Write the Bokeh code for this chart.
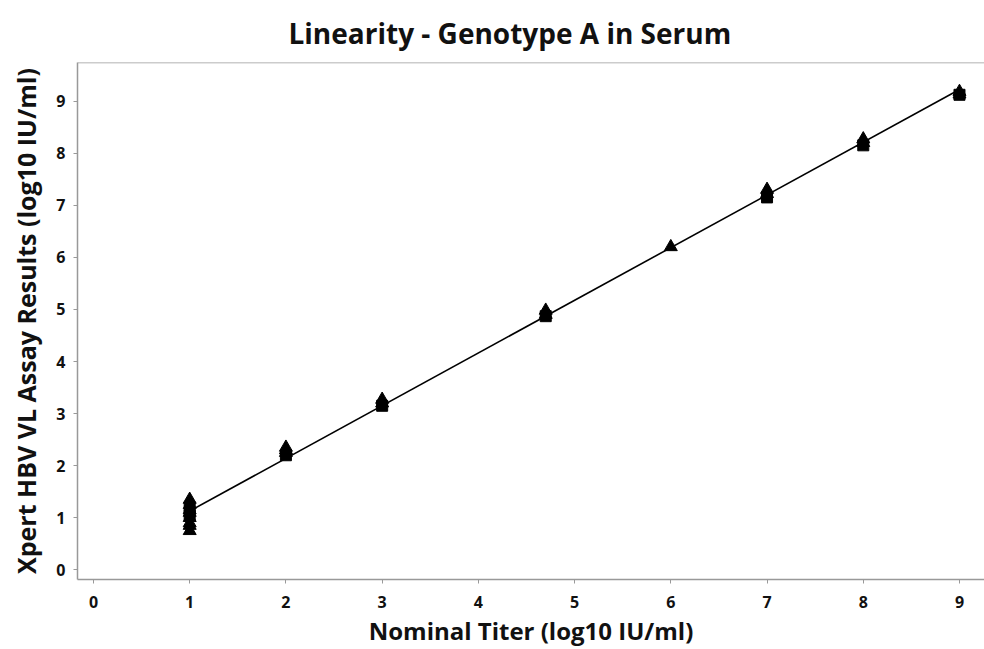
import numpy as np
from bokeh.plotting import figure
from bokeh.models import Span, FixedTicker, Range1d
from bokeh.embed import file_html
from bokeh.resources import INLINE

# Triangle-marker results (nominal titer, assay result)
tri_x = [1, 1, 1, 1, 1, 1, 1, 1,
         2, 2, 2,
         3, 3,
         4.7, 4.7,
         6,
         7, 7,
         8, 8,
         9, 9]
tri_y = [1.35, 1.25, 1.15, 1.1, 1.0, 0.9, 0.85, 0.75,
         2.35, 2.3, 2.25,
         3.27, 3.2,
         4.98, 4.9,
         6.2,
         7.3, 7.22,
         8.27, 8.2,
         9.18, 9.13]
# Square-marker results
sq_x = [1, 1, 2, 3, 4.7, 7, 8, 9]
sq_y = [1.2, 1.05, 2.2, 3.15, 4.87, 7.15, 8.15, 9.12]

x_ticks = [0, 1, 2, 3, 4, 5, 6, 7, 8, 9]
y_ticks = [0, 1, 2, 3, 4, 5, 6, 7, 8, 9]
title_text = "Linearity - Genotype A in Serum"

FONT = "Open Sans"

p = figure(width=984, height=649, output_backend="svg", toolbar_location=None,
           x_range=Range1d(-0.166, 9.26), y_range=Range1d(-0.185, 9.74),
           min_border_left=77, min_border_right=0, min_border_top=62, min_border_bottom=67,
           title=title_text)
p.outline_line_color = None
p.grid.visible = False
p.background_fill_color = "white"
p.border_fill_color = "white"

p.title.text_font = FONT
p.title.text_font_size = "28px"
p.title.text_font_style = "bold"
p.title.align = "left"
p.title.offset = 211
p.title.standoff = 18
p.title.vertical_align = "top"
p.title.text_color = "#111111"

for ax in (p.xaxis[0], p.yaxis[0]):
    ax.axis_line_color = "#999999"
    ax.axis_line_width = 1.5
    ax.major_tick_line_color = "#999999"
    ax.major_tick_out = 4
    ax.major_tick_in = 0
    ax.minor_tick_line_color = None
    ax.major_label_text_font = FONT
    ax.major_label_text_font_size = "16px"
    ax.major_label_text_font_style = "bold"
    ax.major_label_text_color = "#111111"
    ax.axis_label_text_font = FONT
    ax.axis_label_text_font_style = "bold"
    ax.axis_label_text_color = "#111111"

p.xaxis.axis_label_text_font_size = "24px"
p.yaxis.axis_label_text_font_size = "25px"
p.xaxis.ticker = FixedTicker(ticks=x_ticks)
p.yaxis.ticker = FixedTicker(ticks=y_ticks)
p.xaxis.axis_label = "Nominal Titer (log10 IU/ml)"
p.yaxis.axis_label = "Xpert HBV VL Assay Results (log10 IU/ml)"
p.xaxis.major_label_standoff = 12
p.yaxis.major_label_standoff = 8
p.xaxis.axis_label_standoff = 3
p.yaxis.axis_label_standoff = 10

p.add_layout(Span(location=9.74, dimension="width", line_color="#999999", line_width=1.5))

# regression line fitted to all results
all_x = np.array(tri_x + sq_x, dtype=float)
all_y = np.array(tri_y + sq_y, dtype=float)
slope, intercept = np.polyfit(all_x, all_y, 1)
lx = np.array([min(all_x), max(all_x)])
p.line(lx, slope * lx + intercept, line_color="black", line_width=1.6)

p.scatter(sq_x, sq_y, marker="square", size=11, fill_color="black", line_color="black")
p.scatter(tri_x, tri_y, marker="triangle", size=13, fill_color="black", line_color="black")

open("out.html", "w").write(file_html(p, INLINE))
